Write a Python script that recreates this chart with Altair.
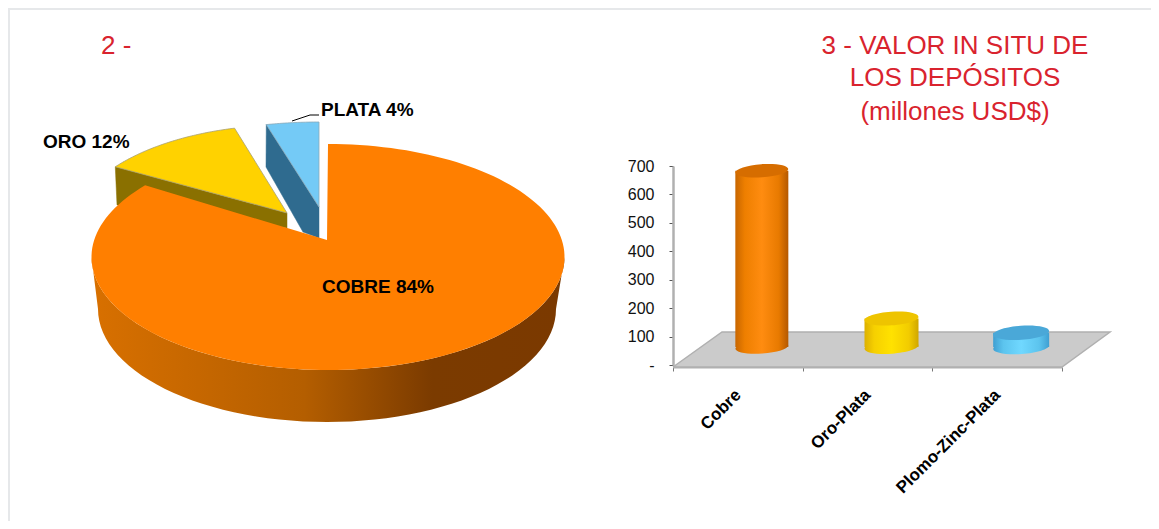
import math
import altair as alt
import pandas as pd

# ---- data ----
pie_labels = ["COBRE 84%", "ORO 12%", "PLATA 4%"]
pie_shares = [84, 12, 4]
bar_categories = ["Cobre", "Oro-Plata", "Plomo-Zinc-Plata"]
bar_values = [620, 100, 50]
title_lines = ["2 -", "3 - VALOR IN SITU DE", "LOS DEPÓSITOS", "(millones USD$)"]

FONT = "Liberation Sans"
RED = "#d9232e"

# view origin on the page (plot area)
OX, OY, W, H = 673, 166, 389, 201
PX = alt.Scale(domain=[0, 1159], range=[-OX, 1159 - OX], nice=False, zero=False)
PY = alt.Scale(domain=[0, 529], range=[-OY, 529 - OY], nice=False, zero=False)


def grad(*stops):
    return alt.Gradient(
        gradient="linear", x1=0, x2=1, y1=0, y2=0,
        stops=[alt.GradientStop(color=c, offset=o) for o, c in stops],
    )


def shape(points, **mark):
    df = pd.DataFrame(points, columns=["x", "y"])
    df["i"] = range(len(df))
    return alt.Chart(df).mark_line(**mark).encode(
        x=alt.X("x:Q", scale=PX, axis=None),
        y=alt.Y("y:Q", scale=PY, axis=None),
        order=alt.Order("i:Q"),
    )


def arc(cx, cy, rx, ry, a0, a1, n=60):
    out = []
    for k in range(n + 1):
        t = math.radians(a0 + (a1 - a0) * k / n)
        out.append((cx + rx * math.sin(t), cy - ry * math.cos(t)))
    return out


# pie geometry: angles derive from the shares
copper_end = pie_shares[0] * 3.6 * 1.023
gold_sweep = pie_shares[1] * 3.6 * 0.9
silver_sweep = pie_shares[2] * 3.6 * 0.9

layers = []

# frame
layers.append(shape([(1159, 9), (9, 9), (9, 529)], stroke="#e6e8ea", strokeWidth=2))

# gold wall, silver wall (behind copper)
g_cx, g_cy, g_rx, g_ry = 287, 230, 215, 105
g_a0 = -53
g_pts = arc(g_cx, g_cy, g_rx, g_ry, g_a0, g_a0 + gold_sweep)
g_apex = (287, 213)
layers.append(shape([g_pts[0], g_apex, (287, 228), (117, 205), g_pts[0]],
                    fill="#8a7000", stroke="#8a7000", strokeWidth=0.5))

s_cx, s_cy, s_rx, s_ry = 319, 224, 235, 102
s_pts = arc(s_cx, s_cy, s_rx, s_ry, -silver_sweep, 0, n=20)
s_apex = (319, 207)
layers.append(shape([s_pts[0], s_apex, (319, 238), (303, 232), (266, 167), s_pts[0]],
                    fill="#2f6b8f", stroke="#2f6b8f", strokeWidth=0.5))

# copper side wall
cx, cy, rx, ry, depth = 328, 257, 236.5, 113, 52
upper = arc(cx, cy, rx, ry, 90, 270)
lower = arc(cx - 1, cy + depth, 229, ry, 270, 90)
layers.append(shape(upper + lower + [upper[0]],
                    strokeWidth=0,
                    fill=grad((0, "#d87000"), (0.45, "#b45e00"), (0.72, "#7b3b00"), (1, "#7b3900"))))

# copper top face
top = [(327, 240)] + arc(cx, cy, rx, ry, 0, copper_end, n=160) + [(327, 240)]
layers.append(shape(top, fill="#ff7f00", strokeWidth=0))

# gold and silver top faces
layers.append(shape([g_apex] + g_pts + [g_apex], fill="#ffd200", stroke="#a8a070", strokeWidth=0.8))
layers.append(shape([s_apex] + s_pts + [s_apex], fill="#74caf6", stroke="#8aa8b8", strokeWidth=0.8))

# leader line
layers.append(shape([(292, 121), (310, 115), (319, 115)], stroke="#000000", strokeWidth=1))

# pie labels and titles
pie_text = pd.DataFrame({"t": pie_labels, "x": [322, 43, 321], "y": [293, 148, 116]})
layers.append(alt.Chart(pie_text).mark_text(
    font=FONT, fontSize=19, fontWeight="bold", align="left", baseline="alphabetic", color="#000000"
).encode(x=alt.X("x:Q", scale=PX, axis=None), y=alt.Y("y:Q", scale=PY, axis=None), text="t:N"))

left_title = pd.DataFrame({"t": title_lines[:1], "x": [101], "y": [54]})
layers.append(alt.Chart(left_title).mark_text(
    font=FONT, fontSize=26, align="left", baseline="alphabetic", color=RED
).encode(x=alt.X("x:Q", scale=PX, axis=None), y=alt.Y("y:Q", scale=PY, axis=None), text="t:N"))

right_title = pd.DataFrame({"t": title_lines[1:], "x": [955, 955, 955], "y": [54, 86, 120]})
layers.append(alt.Chart(right_title).mark_text(
    font=FONT, fontSize=26, align="center", baseline="alphabetic", color=RED
).encode(x=alt.X("x:Q", scale=PX, axis=None), y=alt.Y("y:Q", scale=PY, axis=None), text="t:N"))

# floor of the 3-D bar chart
layers.append(shape([(673, 367), (1062, 367), (1110, 332), (722, 332), (673, 367)],
                    fill="#cbcbcb", stroke="#b0b0b0", strokeWidth=1.5))

# axes (invisible bars carry them)
bars = pd.DataFrame({"cat": bar_categories, "val": bar_values})
layers.append(alt.Chart(bars).mark_bar(opacity=0).encode(
    x=alt.X("cat:N", sort=None, title=None,
            scale=alt.Scale(type="band", domain=bar_categories, range=[0, W], paddingInner=0, paddingOuter=0),
            axis=alt.Axis(labelAngle=-45, labelAlign="right", labelBaseline="middle",
                          labelFont=FONT, labelFontSize=17, labelFontWeight="bold",
                          labelColor="#000000", labelPadding=21, tickBand="extent",
                          tickColor="#777777", tickSize=4, domainColor="#b0b0b0",
                          domainWidth=2, grid=False)),
    y=alt.Y("val:Q", title=None,
            scale=alt.Scale(domain=[0, 700], range=[199, 0], nice=False),
            axis=alt.Axis(values=[0, 100, 200, 300, 400, 500, 600, 700],
                          labelExpr="datum.value == 0 ? '-\u00a0\u00a0' : datum.value",
                          labelFont=FONT, labelFontSize=16, labelColor="#111111",
                          labelPadding=15, tickColor="#555555", tickSize=4,
                          domainColor="#b0b0b0", domainWidth=2.5, grid=False)),
))

# cylinders: shifted into the depth of the floor
CX = alt.Scale(type="band", domain=bar_categories, range=[24, W + 24], paddingInner=0, paddingOuter=0)
CY = alt.Scale(domain=[0, 700], range=[181, -18], nice=False)
ELLIPSE = "M-0.998,0.07A1,0.25 -4 1,1 0.998,-0.07A1,0.25 -4 1,1 -0.998,0.07Z"
cyl_styles = [
    (53, ["#c86600", "#ee7f00", "#ff8c10", "#e87a00", "#b45800"], "#d66d00"),
    (54, ["#dcb000", "#f6d000", "#ffe200", "#f2cc00", "#d0a600"], "#eec400"),
    (56, ["#3f9fd2", "#5cc4ee", "#70d8ff", "#5cc4ee", "#3f9fd2"], "#4aa8d8"),
]
for cat, val, (wid, body, cap) in zip(bar_categories, bar_values, cyl_styles):
    one = pd.DataFrame({"cat": [cat], "val": [val], "zero": [0]})
    body_fill = grad((0, body[0]), (0.18, body[1]), (0.5, body[2]), (0.82, body[3]), (1, body[4]))
    xenc = alt.X("cat:N", scale=CX, axis=None)
    layers.append(alt.Chart(one).mark_point(
        shape=ELLIPSE, size=wid * wid, filled=True, fill=body_fill, opacity=1, strokeWidth=0
    ).encode(x=xenc, y=alt.Y("zero:Q", scale=CY, axis=None)))
    layers.append(alt.Chart(one).mark_bar(size=wid, fill=body_fill).encode(
        x=xenc, y=alt.Y("val:Q", scale=CY, axis=None), y2="zero:Q"))
    layers.append(alt.Chart(one).mark_point(
        shape=ELLIPSE, size=wid * wid, filled=True, fill=cap, opacity=1, strokeWidth=0
    ).encode(x=xenc, y=alt.Y("val:Q", scale=CY, axis=None)))

chart = alt.layer(*layers).resolve_scale(
    x="independent", y="independent"
).properties(
    width=W, height=H,
    padding={"left": OX - 8, "top": OY - 8, "right": 1151 - OX - W, "bottom": 521 - OY - H},
    autosize=alt.AutoSizeParams(type="none"),
    background="white",
).configure_view(stroke=None)

chart.save("out.html", embed_options={"renderer": "svg", "actions": False})
